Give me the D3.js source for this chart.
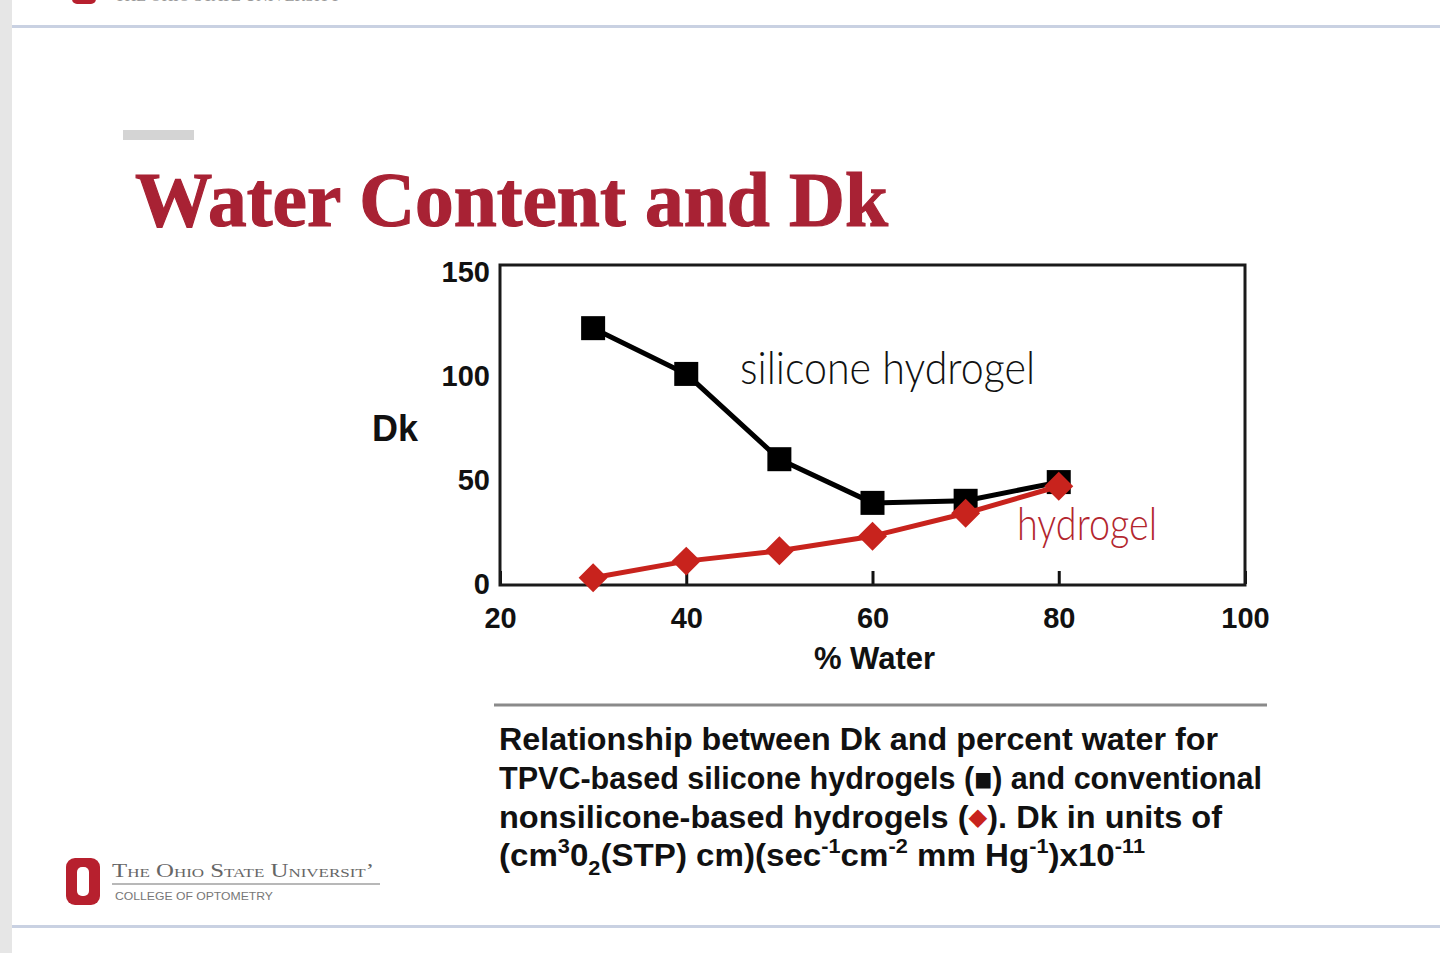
<!DOCTYPE html>
<html>
<head>
<meta charset="utf-8">
<script src="https://cdn.jsdelivr.net/npm/d3@7"></script>
<style>
  body { margin: 0; background: #fff; }
  svg { display: block; }
</style>
</head>
<body>
<script>
// values
var waterPct = [30, 40, 50, 60, 70, 80];
var siliconeDk = [123, 101, 60, 39, 40, 49];
var hydrogelDk = [3, 11, 16, 23, 34, 47];
var xTicks = [20, 40, 60, 80, 100];
var yTicks = [0, 50, 100, 150];

var width = 1440;
var height = 953;
var red = "#c8231d";
var scarlet = "#a82234";

var svg = d3.select("body")
    .append("svg")
    .attr("width", width)
    .attr("height", height);

// slide frame
svg.append("rect")
    .attr("x", 0).attr("y", 0)
    .attr("width", 12).attr("height", height)
    .attr("fill", "#e6e6e6");
svg.append("line")
    .attr("x1", 12).attr("x2", width)
    .attr("y1", 26.5).attr("y2", 26.5)
    .attr("stroke", "#c9d1e2").attr("stroke-width", 3);
svg.append("line")
    .attr("x1", 12).attr("x2", width)
    .attr("y1", 926.5).attr("y2", 926.5)
    .attr("stroke", "#c9d1e2").attr("stroke-width", 3);

// clipped logo at top of slide
svg.append("rect")
    .attr("x", 72).attr("y", -12)
    .attr("width", 24).attr("height", 16).attr("rx", 5)
    .attr("fill", "#b7202e");
svg.append("text")
    .attr("x", 115).attr("y", 1)
    .attr("font-family", "Liberation Serif, serif")
    .attr("font-size", 16)
    .attr("fill", "#999")
    .text("THE OHIO STATE UNIVERSITY");

// title
svg.append("rect")
    .attr("x", 123).attr("y", 130)
    .attr("width", 71).attr("height", 10)
    .attr("fill", "#d4d4d4");
svg.append("text")
    .attr("x", 135).attr("y", 226)
    .attr("font-family", "Liberation Serif, DejaVu Serif, serif")
    .attr("font-weight", "bold")
    .attr("font-size", 78)
    .attr("textLength", 753)
    .attr("lengthAdjust", "spacingAndGlyphs")
    .attr("fill", scarlet)
    .attr("stroke", scarlet)
    .attr("stroke-width", 1.2)
    .text("Water Content and Dk");

// chart
var plotLeft = 500, plotRight = 1245, plotTop = 265, plotBottom = 585;

var x = d3.scaleLinear()
    .domain([20, 100])
    .range([plotLeft, plotRight]);
var y = d3.scaleLinear()
    .domain([0, 150])
    .range([plotBottom - 1, plotTop + 7]);

var xAxis = svg.append("g")
    .attr("transform", "translate(0," + (plotBottom - 1) + ")")
    .call(d3.axisBottom(x).tickValues(xTicks).tickSize(-13).tickPadding(23));
xAxis.select(".domain").remove();
xAxis.selectAll("line").attr("stroke", "#111").attr("stroke-width", 3);
xAxis.selectAll("text")
    .attr("font-family", "Liberation Sans, Arial, sans-serif")
    .attr("font-weight", "bold")
    .attr("font-size", 29)
    .attr("fill", "#111");

var yAxis = svg.append("g")
    .attr("transform", "translate(" + plotLeft + ",0)")
    .call(d3.axisLeft(y).tickValues(yTicks).tickSize(0).tickPadding(10));
yAxis.select(".domain").remove();
yAxis.selectAll("text")
    .attr("font-family", "Liberation Sans, Arial, sans-serif")
    .attr("font-weight", "bold")
    .attr("font-size", 29)
    .attr("fill", "#111");

svg.append("rect")
    .attr("x", plotLeft).attr("y", plotTop)
    .attr("width", plotRight - plotLeft).attr("height", plotBottom - plotTop)
    .attr("fill", "none")
    .attr("stroke", "#1a1a1a")
    .attr("stroke-width", 3);

svg.append("text")
    .attr("x", plotLeft - 82).attr("y", y(75))
    .attr("dy", ".35em")
    .attr("text-anchor", "end")
    .attr("font-family", "Liberation Sans, Arial, sans-serif")
    .attr("font-weight", "bold")
    .attr("font-size", 36)
    .attr("fill", "#111")
    .text("Dk");

svg.append("text")
    .attr("x", x(60) + 2).attr("y", plotBottom + 84)
    .attr("text-anchor", "middle")
    .attr("font-family", "Liberation Sans, Arial, sans-serif")
    .attr("font-weight", "bold")
    .attr("font-size", 31)
    .attr("fill", "#111")
    .text("% Water");

var silicone = waterPct.map(function(w, i) { return [w, siliconeDk[i]]; });
var hydrogel = waterPct.map(function(w, i) { return [w, hydrogelDk[i]]; });

var line = d3.line()
    .x(function(d) { return x(d[0]); })
    .y(function(d) { return y(d[1]); });

svg.append("path")
    .attr("d", line(silicone))
    .attr("fill", "none")
    .attr("stroke", "#000")
    .attr("stroke-width", 5)
    .attr("stroke-linejoin", "round");
svg.selectAll(".sq")
    .data(silicone)
    .enter().append("rect")
    .attr("class", "sq")
    .attr("x", function(d) { return x(d[0]) - 12; })
    .attr("y", function(d) { return y(d[1]) - 12; })
    .attr("width", 24).attr("height", 24)
    .attr("fill", "#000");

svg.append("path")
    .attr("d", line(hydrogel))
    .attr("fill", "none")
    .attr("stroke", red)
    .attr("stroke-width", 5)
    .attr("stroke-linejoin", "round");
var diamond = d3.symbol().type(d3.symbolSquare).size(420);
svg.selectAll(".dm")
    .data(hydrogel)
    .enter().append("path")
    .attr("class", "dm")
    .attr("d", diamond)
    .attr("transform", function(d) {
        return "translate(" + x(d[0]) + "," + y(d[1]) + ") rotate(45)";
    })
    .attr("fill", red);

// hand written labels
svg.append("text")
    .attr("x", 740).attr("y", y(96))
    .attr("font-family", "Lato, Open Sans, sans-serif")
    .attr("font-weight", 300)
    .attr("font-size", 46)
    .attr("textLength", 295)
    .attr("lengthAdjust", "spacingAndGlyphs")
    .attr("fill", "#111")
    .text("silicone hydrogel");
svg.append("text")
    .attr("x", 1017).attr("y", y(21))
    .attr("font-family", "Lato, Open Sans, sans-serif")
    .attr("font-weight", 300)
    .attr("font-size", 46)
    .attr("textLength", 140)
    .attr("lengthAdjust", "spacingAndGlyphs")
    .attr("fill", "#b3262e")
    .text("hydrogel");

// caption
svg.append("line")
    .attr("x1", 494).attr("x2", 1267)
    .attr("y1", 705).attr("y2", 705)
    .attr("stroke", "#8a8a8a").attr("stroke-width", 3);

var cap = svg.append("g")
    .attr("font-family", "Liberation Sans, Arial, sans-serif")
    .attr("font-weight", "bold")
    .attr("font-size", 32)
    .attr("fill", "#111");

cap.append("text").attr("x", 499).attr("y", 750)
    .attr("textLength", 719).attr("lengthAdjust", "spacingAndGlyphs")
    .text("Relationship between Dk and percent water for");

var l2 = cap.append("text").attr("x", 499).attr("y", 789)
    .attr("textLength", 763).attr("lengthAdjust", "spacingAndGlyphs");
l2.append("tspan").text("TPVC-based silicone hydrogels (");
l2.append("tspan").attr("font-size", 20).attr("font-family", "DejaVu Sans").attr("dy", -3).text("\u25A0");
l2.append("tspan").attr("dy", 3).text(") and conventional");

var l3 = cap.append("text").attr("x", 499).attr("y", 828)
    .attr("textLength", 723).attr("lengthAdjust", "spacingAndGlyphs");
l3.append("tspan").text("nonsilicone-based hydrogels (");
l3.append("tspan").attr("font-size", 24).attr("font-family", "DejaVu Sans").attr("dy", -3).attr("fill", red).text("\u25C6");
l3.append("tspan").attr("dy", 3).text("). Dk in units of");

var l4 = cap.append("text").attr("x", 499).attr("y", 866)
    .attr("textLength", 646).attr("lengthAdjust", "spacingAndGlyphs");
var parts = [
    ["(cm", 0], ["3", 1], ["0", 0], ["2", -1], ["(STP) cm)(sec", 0], ["-1", 1],
    ["cm", 0], ["-2", 1], [" mm Hg", 0], ["-1", 1], [")x10", 0], ["-11", 1]
];
var prev = 0;
parts.forEach(function(p) {
    var shift = p[1] == 1 ? -13 : (p[1] == -1 ? 9 : 0);
    l4.append("tspan")
        .attr("dy", shift - prev)
        .attr("font-size", p[1] == 0 ? 32 : 21)
        .text(p[0]);
    prev = shift;
});

// footer logo
svg.append("rect")
    .attr("x", 66).attr("y", 858)
    .attr("width", 34).attr("height", 47).attr("rx", 9)
    .attr("fill", "#b7202e");
svg.append("rect")
    .attr("x", 77).attr("y", 867)
    .attr("width", 12).attr("height", 29).attr("rx", 5)
    .attr("fill", "#fff");
svg.append("text")
    .attr("x", 112).attr("y", 877)
    .attr("font-family", "Liberation Serif, serif")
    .attr("font-size", 19)
    .attr("font-variant", "small-caps")
    .attr("textLength", 262)
    .attr("lengthAdjust", "spacingAndGlyphs")
    .attr("fill", "#666")
    .text("The Ohio State Universit\u02BC");
svg.append("line")
    .attr("x1", 112).attr("x2", 380)
    .attr("y1", 884).attr("y2", 884)
    .attr("stroke", "#a0a0a0").attr("stroke-width", 1.5);
svg.append("text")
    .attr("x", 115).attr("y", 900)
    .attr("font-family", "Liberation Sans, sans-serif")
    .attr("font-size", 11)
    .attr("textLength", 158)
    .attr("lengthAdjust", "spacingAndGlyphs")
    .attr("fill", "#777")
    .text("COLLEGE OF OPTOMETRY");
</script>
</body>
</html>
